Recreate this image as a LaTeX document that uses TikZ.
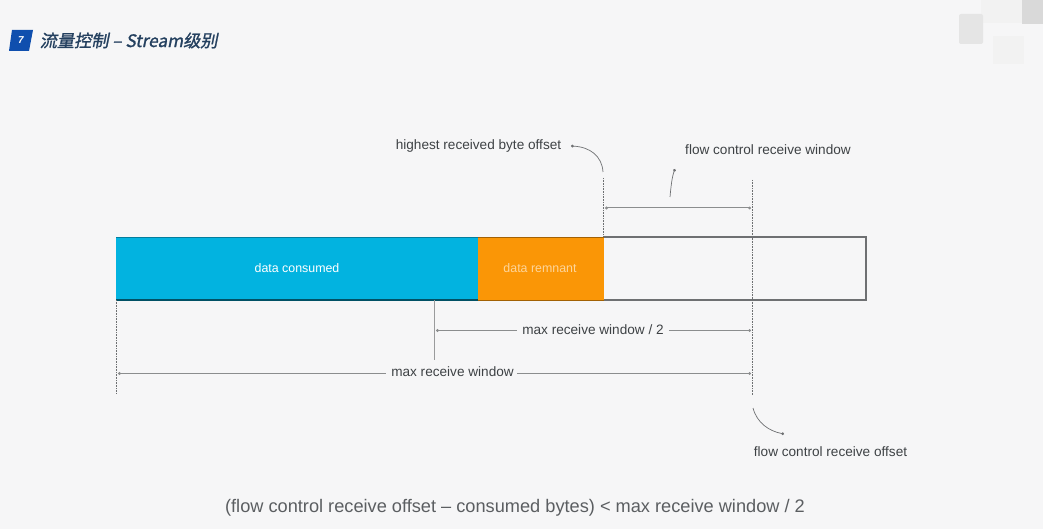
\documentclass[tikz,border=0pt]{standalone}
\usepackage{fontspec}
\setmainfont{Liberation Sans}
\newfontfamily\cjk[FakeSlant=0.2,FakeBold=1.2]{Noto Sans CJK SC}
\usetikzlibrary{arrows.meta,calc}
\definecolor{bgc}{HTML}{F6F6F7}
\definecolor{bluefill}{HTML}{02B3E0}
\definecolor{orangefill}{HTML}{FA9606}
\definecolor{edgec}{HTML}{6E7072}
\definecolor{txtc}{HTML}{3E4245}
\definecolor{titlec}{HTML}{24405F}
\definecolor{squarec}{HTML}{0F4FAE}
\tikzset{
  x=1pt,y=-1pt,
  lab/.style={font=\fontsize{13.6}{15}\selectfont,text=txtc,inner sep=0pt,anchor=center},
  barlab/.style={font=\fontsize{12.4}{14}\selectfont,text=white,inner sep=0pt,anchor=center},
  guide/.style={draw=edgec,line width=0.6pt,densely dotted},
  dim/.style={draw=edgec!80,line width=1pt,{Circle[length=2.8pt]}-{Circle[length=2.8pt]}},
  dimr/.style={draw=edgec!80,line width=1pt,-{Circle[length=2.8pt]}},
  diml/.style={draw=edgec!80,line width=1pt,{Circle[length=2.8pt]}-},
  callout/.style={draw=edgec,line width=0.7pt,-{Circle[length=2.8pt]}},
  tile/.style={fill=#1,draw=none},
}
\begin{document}
\begin{tikzpicture}
\useasboundingbox (0,0) rectangle (1043,529);
\fill[bgc] (0,0) rectangle (1043,529);
% decorative tiles
\fill[tile=black!5] (981,0) rectangle (1022,23);
\fill[tile=black!15] (1022,0) rectangle (1043,24);
\fill[tile=black!10,rounded corners=2pt] (959,14) rectangle (983,44);
\fill[tile=black!5] (993,36) rectangle (1024,64);
% title
\fill[squarec] (12,30) -- (33,30) -- (29,51) -- (9,51) -- cycle;
\node[font=\bfseries\itshape\fontsize{10}{11}\selectfont,text=white,inner sep=0pt] (num) at (21,40.5) {7};
\node[inner sep=0pt,anchor=west,text=titlec,font=\fontsize{17.2}{19}\selectfont] (title) at (39.5,40.5) {\cjk 流量控制 – Stream级别};
% bar
\fill[bluefill] (116,237) rectangle (478,300);
\fill[orangefill] (478,237) rectangle (604,300);
\draw[edgec,line width=1.2pt] (604,237) -- (866,237) -- (866,300) -- (604,300);
\draw[black!55!bluefill,line width=1.2pt] (116,300) -- (478,300);
\draw[black!30!bluefill,line width=0.7pt] (116,237) -- (478,237);
\draw[black!35!orangefill,line width=0.9pt] (478,237) -- (604,237) (478,300) -- (604,300);
\node[barlab] (consumed) at (297,268.5) {data consumed};
\node[barlab,text=white!60!orangefill] (remnant) at (540,268.5) {data remnant};
% guides
\coordinate (g1t) at (603.5,178);
\coordinate (g1b) at (603.5,237);
\coordinate (g2t) at (752.5,180);
\coordinate (g2b) at (752.5,395);
\coordinate (g3t) at (434.5,300);
\coordinate (g3b) at (434.5,360);
\coordinate (g4t) at (116.5,300);
\coordinate (g4b) at (116.5,393);
\draw[guide] (g1t) -- (g1b);
\draw[guide] (g2t) -- (g2b);
\draw[edgec!70,line width=0.5pt] (g3t) -- (g3b);
\draw[guide] (g4t) -- (g4b);
% dimensions
\coordinate (d1l) at (605,208);
\coordinate (d1r) at (751,208);
\draw[dim] (d1l) -- (d1r);
\node[lab] (mrw2) at (593,329.5) {max receive window / 2};
\node[lab] (mrw) at (452.5,372) {max receive window};
\coordinate (d2l) at (436,330.5);
\coordinate (d2r) at (751,330.5);
\coordinate (d3l) at (118,373.5);
\coordinate (d3r) at (751,373.5);
\draw[diml] (d2l) -- ($(mrw2.west |- d2l)+(-5,0)$);
\draw[dimr] ($(mrw2.east |- d2r)+(5,0)$) -- (d2r);
\draw[diml] (d3l) -- ($(mrw.west |- d3l)+(-5,0)$);
\draw[dimr] ($(mrw.east |- d3r)+(3,0)$) -- (d3r);
% callouts
\node[lab] (hrbo) at (478.5,145.5) {highest received byte offset};
\node[lab] (fcrw) at (768,149.5) {flow control receive window};
\node[lab] (fcro) at (830.5,451.5) {flow control receive offset};
\coordinate (c1s) at (603,172);
\coordinate (c1e) at (571,146);
\draw[callout] (c1s) .. controls (602,156) and (590,147) .. (c1e);
\coordinate (c2s) at (670,197);
\coordinate (c2e) at (675,169);
\draw[callout] (c2s) .. controls (671,186) and (672,177) .. (c2e);
\coordinate (c3s) at (753,408);
\coordinate (c3e) at (784,434);
\draw[callout] (c3s) .. controls (757,423) and (769,431) .. (c3e);
% formula
\node[font=\fontsize{18.2}{21}\selectfont,text=txtc!85,inner sep=0pt] (formula) at (515,508) {(flow control receive offset – consumed bytes) < max receive window / 2};
\end{tikzpicture}
\end{document}
